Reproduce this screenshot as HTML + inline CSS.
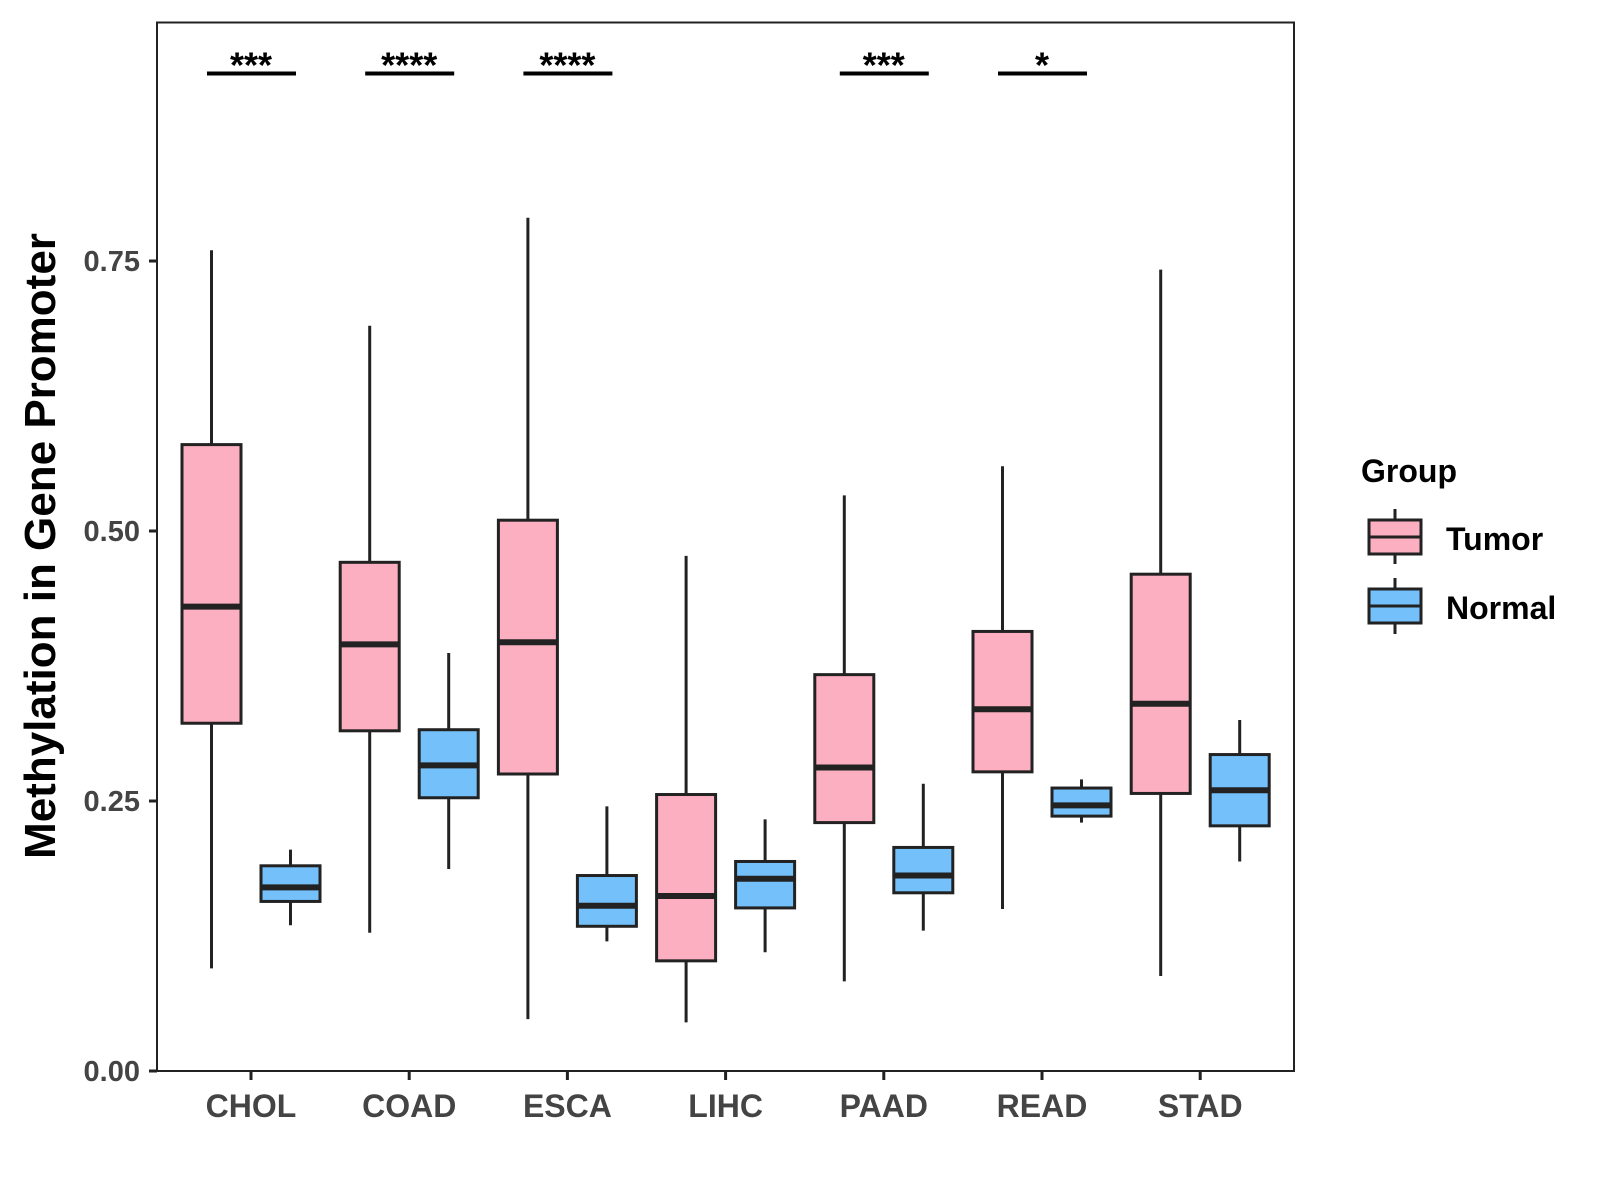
<!DOCTYPE html>
<html><head><meta charset="utf-8"><style>
body{margin:0;background:#fff;}
svg{display:block;font-family:"Liberation Sans",sans-serif;}
</style></head><body>
<svg id="chart" width="1600" height="1200" viewBox="0 0 1600 1200">
<rect x="157" y="22.5" width="1137" height="1048.5" fill="#fff" stroke="#222" stroke-width="2"/>
<g id="marks"></g>
<text transform="translate(55,546) rotate(-90)" text-anchor="middle" font-size="44" font-weight="bold" fill="#000">Methylation in Gene Promoter</text>
<g>
<text x="1361" y="482" font-size="32" font-weight="bold" fill="#000">Group</text>
<g>
<line x1="1395" y1="509" x2="1395" y2="564" stroke="#222" stroke-width="3"/>
<rect x="1369" y="520" width="52" height="34" fill="#FBAFC1" stroke="#222" stroke-width="3"/>
<line x1="1369" y1="537" x2="1421" y2="537" stroke="#222" stroke-width="3"/>
<text x="1446" y="550" font-size="32" font-weight="bold" fill="#000">Tumor</text>
</g>
<g>
<line x1="1395" y1="578" x2="1395" y2="634" stroke="#222" stroke-width="3"/>
<rect x="1369" y="589" width="52" height="34" fill="#74C0FA" stroke="#222" stroke-width="3"/>
<line x1="1369" y1="606" x2="1421" y2="606" stroke="#222" stroke-width="3"/>
<text x="1446" y="619" font-size="32" font-weight="bold" fill="#000">Normal</text>
</g>
</g>
</svg>
<script>
const categories=["CHOL","COAD","ESCA","LIHC","PAAD","READ","STAD"];
const tumorMin=[0.095,0.128,0.048,0.045,0.083,0.150,0.088];
const tumorQ1=[0.322,0.315,0.275,0.102,0.230,0.277,0.257];
const tumorMed=[0.430,0.395,0.397,0.162,0.281,0.335,0.340];
const tumorQ3=[0.580,0.471,0.510,0.256,0.367,0.407,0.460];
const tumorMax=[0.760,0.690,0.790,0.477,0.533,0.560,0.742];
const normalMin=[0.135,0.187,0.120,0.110,0.130,0.230,0.194];
const normalQ1=[0.157,0.253,0.134,0.151,0.165,0.236,0.227];
const normalMed=[0.170,0.283,0.153,0.178,0.181,0.246,0.260];
const normalQ3=[0.190,0.316,0.181,0.194,0.207,0.262,0.293];
const normalMax=[0.205,0.387,0.245,0.233,0.266,0.270,0.325];
const sigLabels=["***","****","****","","***","*",""];
const sigLevel=0.9236;
const yTicks=[0,0.25,0.5,0.75];
const yTickLabels=["0.00","0.25","0.50","0.75"];

const NS="http://www.w3.org/2000/svg";
const g=document.getElementById('marks');
const X0=251, DX=158.2, Y0=1071, YS=1080;
const xs=i=>X0+i*DX;
const ys=v=>Y0-v*YS;
function el(t,a){const e=document.createElementNS(NS,t);for(const k in a)e.setAttribute(k,a[k]);g.appendChild(e);return e;}
yTicks.forEach((v,i)=>{
  const t=el('line',{x1:149,x2:157,y1:ys(v),y2:ys(v),stroke:'#222','stroke-width':3});
  
  
  const l=el('text',{x:140,y:ys(v)+10,'text-anchor':'end','font-size':29,'font-weight':'bold',fill:'#444'});
  l.textContent=yTickLabels[i];
  
  
});
function box(cx,mn,q1,md,q3,mx,fill,name){
  const w=59;
  const wl=el('line',{x1:cx,x2:cx,y1:ys(mx),y2:ys(mn),stroke:'#222','stroke-width':3});
  
  
  const r=el('rect',{x:cx-w/2,y:ys(q3),width:w,height:ys(q1)-ys(q3),fill:fill,stroke:'#222','stroke-width':3});
  
  
  const m=el('line',{x1:cx-w/2,x2:cx+w/2,y1:ys(md),y2:ys(md),stroke:'#222','stroke-width':6});
  
  
}
categories.forEach((c,i)=>{
  const cx=xs(i);
  box(cx-39.5,tumorMin[i],tumorQ1[i],tumorMed[i],tumorQ3[i],tumorMax[i],'#FBAFC1','tumor-'+c.toLowerCase());
  box(cx+39.5,normalMin[i],normalQ1[i],normalMed[i],normalQ3[i],normalMax[i],'#74C0FA','normal-'+c.toLowerCase());
  const t=el('line',{x1:cx,x2:cx,y1:1071,y2:1080,stroke:'#222','stroke-width':3});
  
  
  const l=el('text',{x:cx,y:1117,'text-anchor':'middle','font-size':32,'font-weight':'bold',fill:'#444'});
  l.textContent=c;
  
  
  if(sigLabels[i]){
    const b=el('line',{x1:cx-44,x2:cx+45,y1:ys(sigLevel),y2:ys(sigLevel),stroke:'#000','stroke-width':4});
    
    
    const s=el('text',{x:cx,y:ys(sigLevel)+4,'text-anchor':'middle','font-size':36,'font-weight':'bold',fill:'#000'});
    s.textContent=sigLabels[i];
    
    
  }
});
</script>
</body></html>
